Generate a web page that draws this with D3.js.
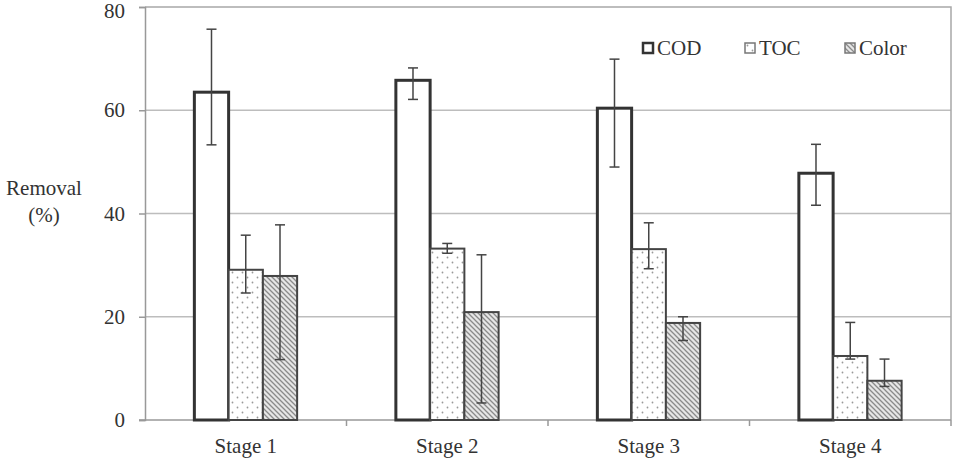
<!DOCTYPE html>
<html>
<head>
<meta charset="utf-8">
<script src="https://cdn.jsdelivr.net/npm/d3@7/dist/d3.min.js"></script>
<style>
  body { margin: 0; background: #fff; }
  text { font-family: "Liberation Serif", "DejaVu Serif", serif; fill: #333; }
</style>
</head>
<body>
<script>
// data
var stages = ["Stage 1", "Stage 2", "Stage 3", "Stage 4"];
var series = ["COD", "TOC", "Color"];
var codVals = [63.5, 65.8, 60.4, 47.8];
var tocVals = [29.1, 33.2, 33.1, 12.4];
var colorVals = [27.9, 20.9, 18.8, 7.6];
var codErr = [[53.3, 75.7], [62.1, 68.2], [49.0, 69.9], [41.6, 53.4]];
var tocErr = [[24.6, 35.8], [32.3, 34.2], [29.3, 38.2], [11.8, 18.9]];
var colorErr = [[11.7, 37.8], [3.3, 32.0], [15.4, 20.0], [6.5, 11.8]];
var yTicks = [0, 20, 40, 60, 80];

var w = 960, h = 460;
// note: "top" clashes with window.top, so plot edges get their own names
var plotL = 145, plotR = 951, plotT = 7, plotB = 420;

var svg = d3.select("body").append("svg")
  .attr("width", w)
  .attr("height", h);

// patterns for the filled bars
var defs = svg.append("defs");
var dots = defs.append("pattern")
  .attr("id", "dots")
  .attr("patternUnits", "userSpaceOnUse")
  .attr("width", 10).attr("height", 10);
dots.append("rect").attr("width", 10).attr("height", 10).attr("fill", "#fff");
dots.append("circle").attr("cx", 2.5).attr("cy", 2.5).attr("r", 0.9).attr("fill", "#999");
dots.append("circle").attr("cx", 7.5).attr("cy", 7.5).attr("r", 0.9).attr("fill", "#999");

var hatch = defs.append("pattern")
  .attr("id", "hatch")
  .attr("patternUnits", "userSpaceOnUse")
  .attr("width", 5).attr("height", 5);
hatch.append("rect").attr("width", 5).attr("height", 5).attr("fill", "#e6e6e6");
hatch.append("path").attr("d", "M-1,-1 L6,6 M-1,4 L1,6 M4,-1 L6,1")
  .attr("stroke", "#8a8a8a").attr("stroke-width", 1.3);

var x0 = d3.scaleBand().domain(stages).range([plotL, plotR]).paddingInner(0.49).paddingOuter(0.245);
var x1 = d3.scaleBand().domain(series).range([0, x0.bandwidth()]);
var y = d3.scaleLinear().domain([0, 80]).range([plotB, plotT]);

// grid
svg.append("g").selectAll("line")
  .data(yTicks.slice(1, 4))
  .enter().append("line")
  .attr("x1", plotL).attr("x2", plotR)
  .attr("y1", function(d){return y(d)}).attr("y2", function(d){return y(d)})
  .attr("stroke", "#bdbdbd").attr("stroke-width", 1.5);

// frame top and right
svg.append("path")
  .attr("d", "M" + plotL + "," + plotT + "H" + plotR + "V" + plotB)
  .attr("fill", "none").attr("stroke", "#a8a8a8").attr("stroke-width", 1.5);

// y axis
var yAxis = d3.axisLeft(y).tickValues(yTicks).tickSize(6).tickPadding(14);
var gy = svg.append("g").attr("transform", "translate(" + plotL + ",0)").call(yAxis);
gy.select(".domain").attr("stroke", "#999").attr("stroke-width", 1.5);
gy.selectAll(".tick line").attr("stroke", "#999").attr("stroke-width", 1.5);
gy.selectAll(".tick text").style("font-size", "21px").attr("fill", "#333")
  .style("font-family", "'Liberation Serif', serif");
// top label sits right at the edge, nudge it down a little so it is not clipped
gy.selectAll(".tick text").filter(function(d){return d == 80}).attr("dy", "0.5em");

// x axis: ticks between categories
var gx = svg.append("g").attr("transform", "translate(0," + plotB + ")");
gx.append("line").attr("x1", plotL - 6).attr("x2", plotR)
  .attr("stroke", "#999").attr("stroke-width", 1.5);
gx.selectAll(".sep")
  .data(stages)
  .enter().append("line")
  .attr("x1", function(d){return x0(d) + x0.bandwidth() / 2 + x0.step() / 2})
  .attr("x2", function(d){return x0(d) + x0.bandwidth() / 2 + x0.step() / 2})
  .attr("y1", 0).attr("y2", 6)
  .attr("stroke", "#999").attr("stroke-width", 1.5);
gx.selectAll("text")
  .data(stages)
  .enter().append("text")
  .attr("x", function(d){return x0(d) + x0.bandwidth() / 2})
  .attr("y", 33)
  .attr("text-anchor", "middle")
  .style("font-size", "21px")
  .text(function(d){return d});

// y title
svg.append("text").attr("x", 44).attr("y", 195).attr("text-anchor", "middle")
  .style("font-size", "21px").text("Removal");
svg.append("text").attr("x", 44).attr("y", 222).attr("text-anchor", "middle")
  .style("font-size", "21px").text("(%)");

var styles = {
  COD: {fill: "#fff", stroke: "#333", sw: 3},
  TOC: {fill: "url(#dots)", stroke: "#444", sw: 2},
  Color: {fill: "url(#hatch)", stroke: "#444", sw: 2}
};
var vals = {COD: codVals, TOC: tocVals, Color: colorVals};
var errs = {COD: codErr, TOC: tocErr, Color: colorErr};

var rows = [];
stages.forEach(function(s, i){
  series.forEach(function(k){
    rows.push({stage: s, key: k, v: vals[k][i], e: errs[k][i]});
  });
});

// bars
svg.append("g").selectAll("rect")
  .data(rows)
  .enter().append("rect")
  .attr("x", function(d){return x0(d.stage) + x1(d.key)})
  .attr("y", function(d){return y(d.v)})
  .attr("width", x1.bandwidth())
  .attr("height", function(d){return y(0) - y(d.v)})
  .attr("fill", function(d){return styles[d.key].fill})
  .attr("stroke", function(d){return styles[d.key].stroke})
  .attr("stroke-width", function(d){return styles[d.key].sw});

// error bars
var eb = svg.append("g").selectAll("g")
  .data(rows)
  .enter().append("g")
  .attr("stroke", "#444").attr("stroke-width", 1.5);
eb.append("line")
  .attr("x1", function(d){return x0(d.stage) + x1(d.key) + x1.bandwidth() / 2})
  .attr("x2", function(d){return x0(d.stage) + x1(d.key) + x1.bandwidth() / 2})
  .attr("y1", function(d){return y(d.e[0])})
  .attr("y2", function(d){return y(d.e[1])});
[0, 1].forEach(function(j){
  eb.append("line")
    .attr("x1", function(d){return x0(d.stage) + x1(d.key) + x1.bandwidth() / 2 - 5})
    .attr("x2", function(d){return x0(d.stage) + x1(d.key) + x1.bandwidth() / 2 + 5})
    .attr("y1", function(d){return y(d.e[j])})
    .attr("y2", function(d){return y(d.e[j])});
});

// legend
var legX = [643, 745, 845];
var leg = svg.append("g").selectAll("g")
  .data(series)
  .enter().append("g")
  .attr("transform", function(d, i){return "translate(" + legX[i] + ",43)"});
leg.append("rect")
  .attr("width", 10).attr("height", 10)
  .attr("fill", function(d){return styles[d].fill})
  .attr("stroke", function(d){return d == "COD" ? "#333" : "#777"})
  .attr("stroke-width", function(d){return d == "COD" ? 2.5 : 1.5});
leg.append("text")
  .attr("x", 14).attr("y", 12)
  .style("font-size", "21px")
  .text(function(d){return d});
</script>
</body>
</html>
